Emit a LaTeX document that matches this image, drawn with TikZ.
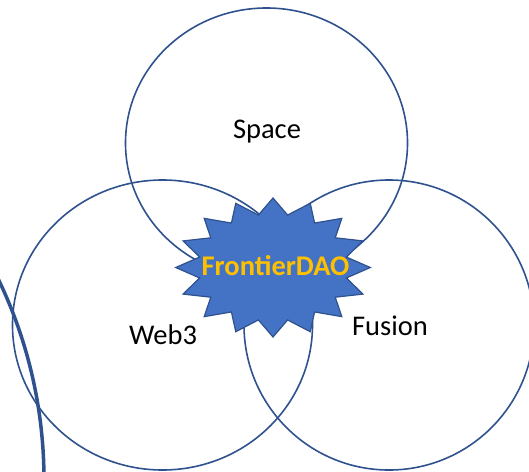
\documentclass[tikz,border=0pt]{standalone}
\usepackage{fontspec}
\setmainfont{Carlito}
\usetikzlibrary{shapes.geometric}
\definecolor{lineblue}{HTML}{2F528F}
\definecolor{starblue}{HTML}{4472C4}
\definecolor{daogold}{HTML}{FFC000}
\tikzset{
    ring/.style={draw=lineblue, line width=1.6pt},
    venntext/.style={anchor=base, font=\fontsize{28.5}{34}\selectfont},
}

\begin{document}
\begin{tikzpicture}[x=1pt, y=-1pt]
        \useasboundingbox (0,0) rectangle (529,471);
        \clip (0,0) rectangle (529,471);
        \draw[ring] (266.5,143) ellipse [x radius=141, y radius=135];
        \draw[ring] (162.5,325) ellipse [x radius=150, y radius=145];
        \draw[ring] (389,325) ellipse [x radius=145, y radius=145];

        \node[star, star points=16, star point ratio=1.3, minimum size=139pt, inner sep=0pt, xscale=1.4,
              fill=starblue, draw=lineblue, line width=1.2pt] (dao) at (273,267.5) {};
        \node[venntext, font=\bfseries\fontsize{28.5}{34}\selectfont, text=daogold] (daoname) at (275.5,275) {FrontierDAO};

        \node[venntext] (space) at (267,138) {Space};
        \node[venntext] (web3) at (163,344) {Web3};
        \node[venntext] (fusion) at (390,335) {Fusion};

        \draw[lineblue, line width=3.5pt] (-419,480) circle (463);
    \end{tikzpicture}
\end{document}
